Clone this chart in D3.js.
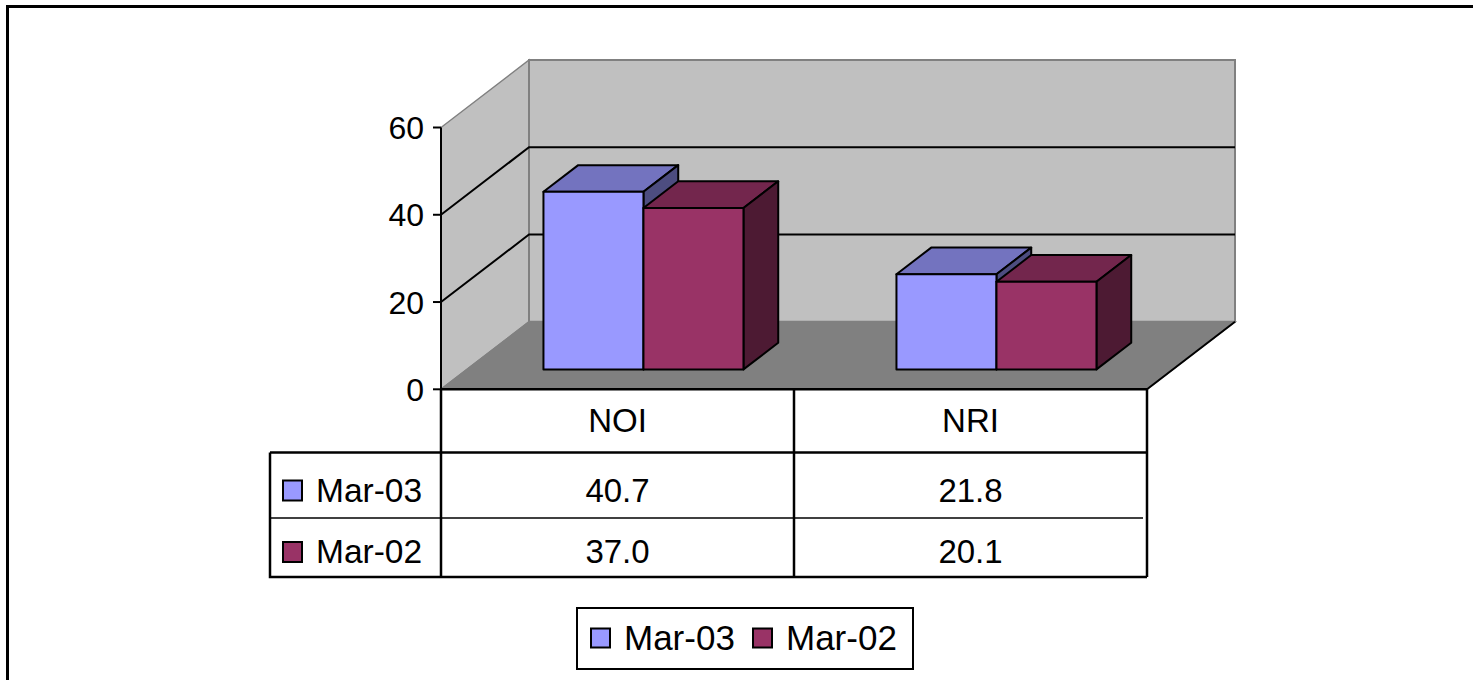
<!DOCTYPE html>
<html>
<head>
<meta charset="utf-8">
<script src="https://cdn.jsdelivr.net/npm/d3@7"></script>
<style>
  html, body { margin: 0; background: #fff; overflow: hidden; }
  svg { display: block; }
  text { font-family: "Liberation Sans", Arial, sans-serif; fill: #000; }
</style>
</head>
<body>
<svg id="chart"></svg>
<script>
const width = 1473;
const height = 680;

// data
const categories = ["NOI", "NRI"];
const series = ["Mar-03", "Mar-02"];
const mar03 = [40.7, 21.8];
const mar02 = [37.0, 20.1];
const valueTicks = [0, 20, 40, 60];
const seriesColors = ["#9999FF", "#993366"];
const seriesValues = [mar03, mar02];

const svg = d3.select("#chart")
  .attr("width", width)
  .attr("height", height);

// outer frame: only top and left edges are inside the picture
svg.append("path")
  .attr("d", `M${width + 20},6.5H7.5V${height + 20}`)
  .attr("fill", "none").attr("stroke", "#000").attr("stroke-width", 3);

// scales
const x = d3.scaleBand().domain(categories).range([441, 1147]);
const bw = x.bandwidth();
const xs = d3.scaleBand().domain(series).range([bw * 0.2167, bw * 0.7833]);
const y = d3.scaleLinear().domain([0, 60]).range([389.3, 127.5]);

// depth vector of the 3d box
const DX = 88, DY = -67.5;
const pt = (px, v, f) => [px + f * DX, y(v) + f * DY];
const poly = pts => "M" + pts.map(p => p.join(",")).join("L") + "Z";
const line = pts => "M" + pts.map(p => p.join(",")).join("L");

const x0 = x.range()[0], x1 = x.range()[1];
const vMax = y.domain()[1];

// walls and floor
svg.append("path")
  .attr("d", poly([pt(x0, 0, 0), pt(x0, vMax, 0), pt(x0, vMax, 1), pt(x0, 0, 1)]))
  .attr("fill", "#C0C0C0").attr("stroke", "#808080").attr("stroke-width", 1.5);
svg.append("path")
  .attr("d", poly([pt(x0, 0, 1), pt(x0, vMax, 1), pt(x1, vMax, 1), pt(x1, 0, 1)]))
  .attr("fill", "#C0C0C0").attr("stroke", "#808080").attr("stroke-width", 2);
svg.append("path")
  .attr("d", poly([pt(x0, 0, 0), pt(x1, 0, 0), pt(x1, 0, 1), pt(x0, 0, 1)]))
  .attr("fill", "#808080").attr("stroke", "#808080").attr("stroke-width", 1.5);
svg.append("path")
  .attr("d", line([pt(x1, 0, 0), pt(x1, 0, 1)]))
  .attr("fill", "none").attr("stroke", "#000").attr("stroke-width", 2);

// gridlines
svg.selectAll(".grid")
  .data(valueTicks.filter(v => v > 0 && v < vMax))
  .enter().append("path")
  .attr("class", "grid")
  .attr("d", v => line([pt(x0, v, 0), pt(x0, v, 1), pt(x1, v, 1)]))
  .attr("fill", "none").attr("stroke", "#000").attr("stroke-width", 2);

// bars
const shade = (c, k) => {
  const r = d3.rgb(c);
  return d3.rgb(r.r * k, r.g * k, r.b * k).formatHex();
};
const fFront = 0.295, fBack = 0.69;

categories.forEach((cat, ci) => {
  series.forEach((s, si) => {
    const v = seriesValues[si][ci];
    const xl = x(cat) + xs(s);
    const xr = xl + xs.bandwidth();
    const col = seriesColors[si];
    const g = svg.append("g").attr("class", "bar")
      .attr("stroke", "#000").attr("stroke-width", 2).attr("stroke-linejoin", "round");
    // top
    g.append("path")
      .attr("d", poly([pt(xl, v, fFront), pt(xr, v, fFront), pt(xr, v, fBack), pt(xl, v, fBack)]))
      .attr("fill", shade(col, 0.75));
    // right side
    g.append("path")
      .attr("d", poly([pt(xr, 0, fFront), pt(xr, v, fFront), pt(xr, v, fBack), pt(xr, 0, fBack)]))
      .attr("fill", shade(col, 0.5));
    // front
    g.append("path")
      .attr("d", poly([pt(xl, 0, fFront), pt(xl, v, fFront), pt(xr, v, fFront), pt(xr, 0, fFront)]))
      .attr("fill", col);
  });
});

// value axis
svg.append("line")
  .attr("x1", x0).attr("x2", x0)
  .attr("y1", y(vMax)).attr("y2", 452)
  .attr("stroke", "#000").attr("stroke-width", 2);
svg.append("line")
  .attr("x1", x0).attr("x2", x1)
  .attr("y1", y(0)).attr("y2", y(0))
  .attr("stroke", "#000").attr("stroke-width", 2.5);
svg.selectAll(".tick")
  .data(valueTicks)
  .enter().append("line")
  .attr("x1", x0 - 8).attr("x2", x0)
  .attr("y1", d => y(d)).attr("y2", d => y(d))
  .attr("stroke", "#000").attr("stroke-width", 2);
svg.selectAll(".ylab")
  .data(valueTicks)
  .enter().append("text")
  .attr("class", "ylab")
  .attr("x", 424)
  .attr("y", d => y(d) + 11.5)
  .attr("text-anchor", "end")
  .style("font-size", "32px")
  .text(d => d);

// data table
const tLeft = 270, rowTop = 452.5, rowMid = 518, tBottom = 577;
const rowBaselines = [501.5, 563];
svg.append("path")
  .attr("d", `M${x0},${y(0)}V${rowTop}M${x(categories[1])},${y(0)}V${tBottom}M${x1},${y(0)}V${tBottom}` +
             `M${tLeft},${rowTop}H${x1}M${tLeft},${rowTop}V${tBottom}H${x1}M${x0},${rowTop}V${tBottom}`)
  .attr("fill", "none").attr("stroke", "#000").attr("stroke-width", 2.5);
svg.append("line")
  .attr("x1", tLeft).attr("x2", x1 - 4)
  .attr("y1", rowMid).attr("y2", rowMid)
  .attr("stroke", "#000").attr("stroke-width", 1.5);

svg.selectAll(".cat")
  .data(categories)
  .enter().append("text")
  .attr("x", d => x(d) + bw / 2)
  .attr("y", 432)
  .attr("text-anchor", "middle")
  .style("font-size", "33px")
  .text(d => d);

series.forEach((s, si) => {
  svg.append("rect")
    .attr("x", 283).attr("y", rowBaselines[si] - 21)
    .attr("width", 19).attr("height", 20)
    .attr("fill", seriesColors[si]).attr("stroke", "#000").attr("stroke-width", 2);
  svg.append("text")
    .attr("x", 316).attr("y", rowBaselines[si])
    .style("font-size", "33.5px")
    .text(s);
  categories.forEach((cat, ci) => {
    svg.append("text")
      .attr("x", x(cat) + bw / 2)
      .attr("y", rowBaselines[si])
      .attr("text-anchor", "middle")
      .style("font-size", "33px")
      .text(seriesValues[si][ci].toFixed(1));
  });
});

// legend
const legend = svg.append("g").attr("class", "legend");
legend.append("rect")
  .attr("x", 577).attr("y", 608)
  .attr("width", 336).attr("height", 61)
  .attr("fill", "#fff").attr("stroke", "#000").attr("stroke-width", 2);
const legendX = [591, 753];
series.forEach((s, si) => {
  legend.append("rect")
    .attr("x", legendX[si]).attr("y", 628.5)
    .attr("width", 19).attr("height", 19)
    .attr("fill", seriesColors[si]).attr("stroke", "#000").attr("stroke-width", 2);
  legend.append("text")
    .attr("x", legendX[si] + 33).attr("y", 649.5)
    .style("font-size", "35px")
    .text(s);
});
</script>
</body>
</html>
